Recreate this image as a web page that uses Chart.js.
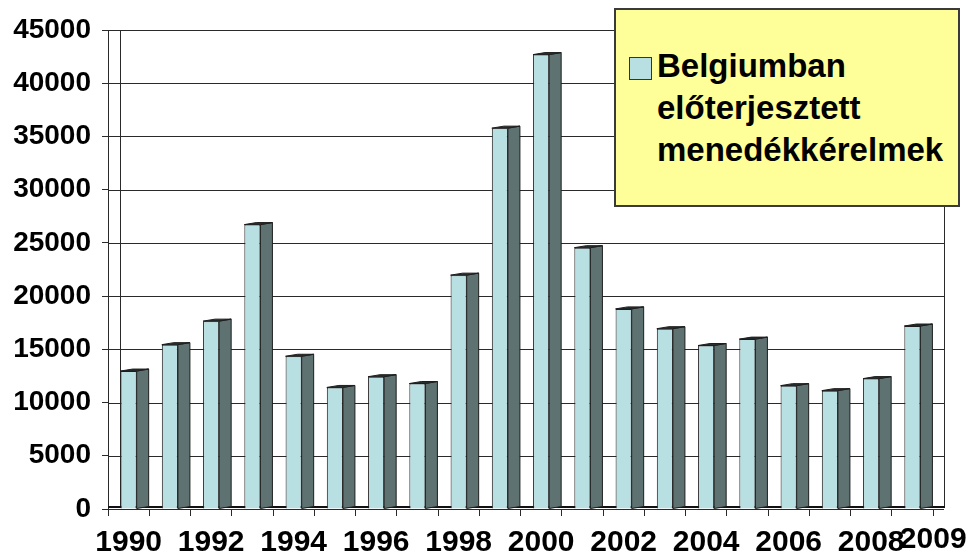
<!DOCTYPE html>
<html>
<head>
<meta charset="utf-8">
<title>Belgiumban előterjesztett menedékkérelmek</title>
<script src="https://cdn.jsdelivr.net/npm/chart.js@4/dist/chart.umd.min.js"></script>
<style>
    body { margin: 0; background: #fff; }
    #wrap { position: relative; width: 970px; height: 559px; }
    #legend-box {
        position: absolute; left: 614px; top: 8px; width: 346px; height: 199px;
        box-sizing: border-box; background: #ffff99; border: 2px solid #3a3a3a;
    }
    #legend-swatch {
        position: absolute; left: 629px; top: 57px; width: 23px; height: 23px;
        box-sizing: border-box; background: #b8dfe1; border: 1px solid #333;
    }
    #legend-text {
        position: absolute; left: 657px; top: 45px; margin: 0;
        font: bold 33px/42px 'Liberation Sans', Arial, sans-serif; color: #000;
    }
</style>
</head>
<body>
<div id="wrap">
    <canvas id="bar-chart"></canvas>
    <div id="legend-box"></div>
    <div id="legend-swatch"></div>
    <p id="legend-text"></p>
</div>
<script>
const years = ['1990', '1991', '1992', '1993', '1994', '1995', '1996', '1997', '1998', '1999',
               '2000', '2001', '2002', '2003', '2004', '2005', '2006', '2007', '2008', '2009'];
const applications = [12960, 15440, 17650, 26720, 14350, 11420, 12430, 11790, 21970, 35780,
                      42690, 24550, 18800, 16940, 15360, 15960, 11590, 11120, 12250, 17190];
const seriesName = ['Belgiumban', 'előterjesztett', 'menedékkérelmek'];
const yMax = 45000;
const yStep = 5000;

const fontFamily = "'Liberation Sans', Arial, sans-serif";
const frontColor = '#b8dfe1';
const sideColor = '#5f7272';
const lineColor = '#2a2a2a';
const depthX = 12;
const depthY = 2;

document.getElementById('legend-text').innerHTML = seriesName.join('<br>');

// back wall: gridlines pushed back by the depth offset
const backWall = {
    id: 'backWall',
    beforeDatasetsDraw(chart) {
        const { ctx, chartArea, scales } = chart;
        ctx.save();
        ctx.strokeStyle = lineColor;
        ctx.lineWidth = 1;
        scales.y.ticks.forEach(t => {
            const y = Math.round(scales.y.getPixelForValue(t.value)) + 0.5;
            ctx.beginPath();
            ctx.moveTo(chartArea.left, y);
            ctx.lineTo(chartArea.right + depthX - 1, y);
            ctx.stroke();
        });
        const bottom = chartArea.bottom - depthY;
        ctx.beginPath();
        ctx.moveTo(chartArea.left + depthX + 0.5, chartArea.top);
        ctx.lineTo(chartArea.left + depthX + 0.5, bottom);
        ctx.moveTo(chartArea.right + depthX - 0.5, chartArea.top);
        ctx.lineTo(chartArea.right + depthX - 0.5, bottom);
        ctx.stroke();
        // floor edge
        ctx.lineWidth = 2;
        ctx.strokeStyle = '#111';
        ctx.beginPath();
        ctx.moveTo(chartArea.left, bottom);
        ctx.lineTo(chartArea.right + depthX, bottom);
        ctx.stroke();
        ctx.restore();
    }
};

// side and top faces of each bar
const barDepth = {
    id: 'barDepth',
    afterDatasetsDraw(chart) {
        const { ctx } = chart;
        const meta = chart.getDatasetMeta(0);
        ctx.save();
        ctx.strokeStyle = '#1e1e1e';
        ctx.lineWidth = 1;
        meta.data.forEach(bar => {
            const { x, y, base, width } = bar.getProps(['x', 'y', 'base', 'width'], true);
            const left = x - width / 2;
            const right = x + width / 2;
            ctx.fillStyle = sideColor;
            ctx.beginPath();
            ctx.moveTo(right, y);
            ctx.lineTo(right + depthX, y - depthY);
            ctx.lineTo(right + depthX, base - depthY);
            ctx.lineTo(right, base);
            ctx.closePath();
            ctx.fill();
            ctx.stroke();
            ctx.fillStyle = '#263030';
            ctx.beginPath();
            ctx.moveTo(left, y);
            ctx.lineTo(left + depthX, y - depthY);
            ctx.lineTo(right + depthX, y - depthY);
            ctx.lineTo(right, y);
            ctx.closePath();
            ctx.fill();
            ctx.stroke();
        });
        ctx.restore();
    }
};

const ctx = document.getElementById('bar-chart').getContext('2d');

const barChart = new Chart(ctx, {
    type: 'bar',
    data: {
        labels: years,
        datasets: [{
            label: seriesName.join(' '),
            data: applications,
            backgroundColor: frontColor,
            borderColor: '#1e1e1e',
            borderWidth: 1,
            categoryPercentage: 1,
            barPercentage: 0.39
        }]
    },
    options: {
        responsive: true,
        maintainAspectRatio: false,
        animation: false,
        layout: { padding: { top: 30, right: 37, left: 0, bottom: 0 } },
        plugins: {
            legend: { display: false },
            tooltip: { enabled: false }
        },
        scales: {
            x: {
                afterFit(scale) {
                    scale.height = 50;
                    // the shifted 2009 label may hang over the edge
                    scale.paddingLeft = 0;
                    scale.paddingRight = 0;
                },
                grid: { offset: true, drawOnChartArea: false, tickLength: 7, color: lineColor },
                border: { color: lineColor, width: 1 },
                ticks: {
                    autoSkip: false,
                    maxRotation: 0,
                    padding: 9,
                    color: '#000',
                    // last year sits a little higher, as in the original
                    font: c => ({
                        family: fontFamily, size: 30, weight: 'bold',
                        lineHeight: c.index === years.length - 1 ? 0.95 : 1.2
                    }),
                    callback: function (value, index) {
                        const year = this.getLabelForValue(value);
                        if (index === years.length - 1) return '     ' + year;
                        return index % 2 === 0 ? year : '';
                    }
                }
            },
            y: {
                min: 0,
                max: yMax,
                afterFit(scale) { scale.width = 108; },
                grid: { drawOnChartArea: false, tickLength: 6, color: lineColor },
                border: { color: lineColor, width: 1 },
                ticks: {
                    stepSize: yStep,
                    padding: 11,
                    color: '#000',
                    font: { family: fontFamily, size: 28, weight: 'bold' },
                    callback: value => String(value)
                }
            }
        }
    },
    plugins: [backWall, barDepth]
});
</script>
</body>
</html>
